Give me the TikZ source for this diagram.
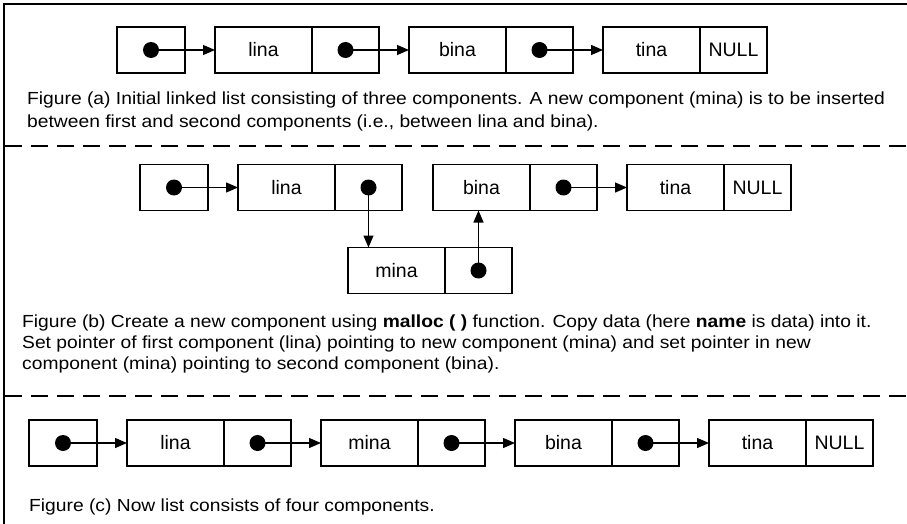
\documentclass[tikz,border=0pt]{standalone}
\usepackage{fontspec}
\setmainfont{Liberation Sans}
\newfontfamily\capfont[FakeStretch=1.1]{Liberation Sans}
\usetikzlibrary{positioning}
\usetikzlibrary{arrows.meta}
\tikzset{
	field/.style = {
		draw=black,
		line width=1.3pt,
		minimum height=46pt,
		inner sep=0pt,
		outer sep=0pt,
		font=\fontsize{19.5}{20}\selectfont
	},
	node_data/.style = {
		field,
		minimum width=97pt
	},
	node_ptr/.style = {
		field,
		minimum width=67pt
	},
	node_head/.style = {
		field,
		minimum width=68pt
	},
	node_dot/.style = {
		circle,
		fill=black,
		inner sep=0pt,
		minimum size=16pt
	},
	link/.style = {
		->,
		line width=1.3pt
	},
	separator/.style = {
		line width=1.3pt,
		dash pattern=on 17pt off 9pt
	},
	caption/.style = {
		anchor=base west,
		inner sep=0pt,
		font=\capfont\fontsize{17.5}{20}\selectfont
	},
}

\begin{document}
\begin{tikzpicture}[x=1pt,y=1pt,node distance=30pt,>={Triangle[length=12pt,width=10pt]}]
\useasboundingbox (0,0) rectangle (907,-524);
% frame and separators
\draw[line width=2pt] (907,-4) -- (4,-4) -- (4,-524);
\draw[separator] (5,-146) -- (907,-146);
\draw[separator] (5,-396) -- (907,-396);

% figure (a)
\node[node_head] (ah) at (151,-50) {};
\node[node_data, right=of ah] (a1) {lina};
\node[node_ptr, right=0pt of a1] (a1p) {};
\node[node_data, right=of a1p] (a2) {bina};
\node[node_ptr, right=0pt of a2] (a2p) {};
\node[node_data, right=of a2p] (a3) {tina};
\node[node_ptr, right=0pt of a3] (a3p) {NULL};
\foreach \p/\n in {ah/a1, a1p/a2, a2p/a3} {
	\node[node_dot] (\p d) at (\p) {};
	\draw[link] (\p d.center) -- (\n.west);
}
\node[caption] (capa1) at (27,-105) {Figure (a) Initial linked list consisting of three components. A new component (mina) is to be inserted};
\node[caption] (capa2) at (27,-128) {between first and second components (i.e., between lina and bina).};

% figure (b)
\node[node_head] (bh) at (174,-187.5) {};
\node[node_data, right=of bh] (b1) {lina};
\node[node_ptr, right=0pt of b1] (b1p) {};
\node[node_data] (b2) at (481.5,-187.5) {bina};
\node[node_ptr, right=0pt of b2] (b2p) {};
\node[node_data, right=of b2p] (b3) {tina};
\node[node_ptr, right=0pt of b3] (b3p) {NULL};
\node[node_data] (bm) at (396.5,-270.5) {mina};
\node[node_ptr, right=0pt of bm] (bmp) {};
\foreach \p/\n in {bh/b1, b2p/b3} {
	\node[node_dot] (\p d) at (\p) {};
	\draw[link] (\p d.center) -- (\n.west);
}
\node[node_dot] (b1pd) at (b1p) {};
\node[node_dot] (bmpd) at (bmp) {};
\draw[link] (b1pd.center) -- (b1pd |- bm.north);
\draw[link] (bmpd.center) -- (bmpd |- b2.south);
\node[caption] (capb1) at (22,-327) {Figure (b) Create a new component using \textbf{malloc ( )} function. Copy data (here \textbf{name} is data) into it.};
\node[caption] (capb2) at (22,-348) {Set pointer of first component (lina) pointing to new component (mina) and set pointer in new};
\node[caption] (capb3) at (22,-369) {component (mina) pointing to second component (bina).};

% figure (c)
\node[node_head] (ch) at (63,-443) {};
\node[node_data, right=of ch] (c1) {lina};
\node[node_ptr, right=0pt of c1] (c1p) {};
\node[node_data, right=of c1p] (c2) {mina};
\node[node_ptr, right=0pt of c2] (c2p) {};
\node[node_data, right=of c2p] (c3) {bina};
\node[node_ptr, right=0pt of c3] (c3p) {};
\node[node_data, right=of c3p] (c4) {tina};
\node[node_ptr, right=0pt of c4] (c4p) {NULL};
\foreach \p/\n in {ch/c1, c1p/c2, c2p/c3, c3p/c4} {
	\node[node_dot] (\p d) at (\p) {};
	\draw[link] (\p d.center) -- (\n.west);
}
\node[caption] (capc) at (29,-511) {Figure (c) Now list consists of four components.};
\end{tikzpicture}
\end{document}
